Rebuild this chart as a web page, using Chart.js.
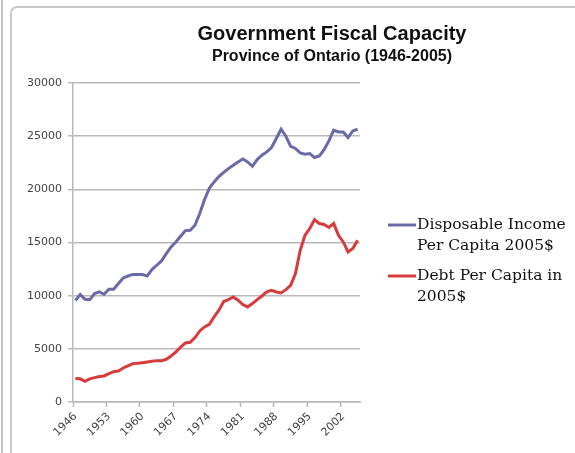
<!DOCTYPE html>
<html>
<head>
<meta charset="utf-8">
<script src="https://cdn.jsdelivr.net/npm/chart.js@4"></script>
<style>
  html, body { margin: 0; padding: 0; background: #fff; }
  #wrap { position: relative; width: 575px; height: 453px; overflow: hidden; }
  #edge { position: absolute; left: 1px; top: 0; width: 2px; height: 453px; background: #c4c4c4; }
  #frame { position: absolute; left: 10px; top: 6px; width: 620px; height: 500px;
           border: 2px solid #c8c8c8; border-radius: 7px; box-sizing: border-box; }
  canvas { position: absolute; left: 0; top: 0; }
</style>
</head>
<body>
<div id="wrap">
  <div id="edge"></div>
  <div id="frame"></div>
  <canvas id="chart" width="575" height="453"></canvas>
</div>
<script>
const titleText = "Government Fiscal Capacity";
const subtitleText = "Province of Ontario (1946-2005)";

const years = [
  "1946","1947","1948","1949","1950","1951","1952","1953","1954","1955",
  "1956","1957","1958","1959","1960","1961","1962","1963","1964","1965",
  "1966","1967","1968","1969","1970","1971","1972","1973","1974","1975",
  "1976","1977","1978","1979","1980","1981","1982","1983","1984","1985",
  "1986","1987","1988","1989","1990","1991","1992","1993","1994","1995",
  "1996","1997","1998","1999","2000","2001","2002","2003","2004","2005"
];

// tick labels shown on the x axis
const yearTicks = ["1946","1953","1960","1967","1974","1981","1988","1995","2002"];
const valueTicks = [0, 5000, 10000, 15000, 20000, 25000, 30000];

const incomeLabel = ["Disposable Income", "Per Capita 2005$"];
const debtLabel = ["Debt Per Capita in", "2005$"];

const income = [
  9550, 10100, 9650, 9630, 10200, 10350, 10130, 10600, 10600, 11140,
  11670, 11850, 12000, 12000, 11980, 11850, 12450, 12860, 13270, 13960,
  14580, 15050, 15590, 16120, 16150, 16620, 17720, 19040, 20100, 20700,
  21200, 21600, 21950, 22270, 22580, 22860, 22580, 22170, 22800, 23210,
  23520, 23930, 24780, 25650, 25000, 24050, 23840, 23420, 23300, 23370,
  22990, 23140, 23740, 24550, 25560, 25400, 25400, 24870, 25490, 25650
];

const debt = [
  2200, 2180, 1950, 2170, 2290, 2390, 2450, 2670, 2860, 2920,
  3200, 3390, 3610, 3640, 3700, 3760, 3830, 3890, 3890, 4020,
  4330, 4700, 5170, 5550, 5620, 6060, 6680, 7060, 7310, 8000,
  8630, 9450, 9630, 9880, 9570, 9160, 8940, 9260, 9630, 9970,
  10350, 10510, 10350, 10250, 10570, 10980, 12080, 14270, 15680, 16310,
  17160, 16780, 16690, 16410, 16780, 15680, 15050, 14110, 14430, 15210
];

const purple = "#6a6aa9";
const red = "#d83b3b";
const gridGray = "#b8b8b8";

// title, subtitle and the wrapped legend on the right
const decor = {
  id: "decor",
  afterDraw(chart) {
    const ctx = chart.ctx;
    ctx.save();
    ctx.fillStyle = "#111";
    ctx.textAlign = "center";
    ctx.textBaseline = "middle";
    ctx.font = "bold 20px 'Liberation Sans', Arial, sans-serif";
    ctx.fillText(titleText, 332, 34);
    ctx.font = "bold 16px 'Liberation Sans', Arial, sans-serif";
    ctx.fillText(subtitleText, 332, 57);

    const items = [
      { lines: incomeLabel, color: purple, y: 225 },
      { lines: debtLabel, color: red, y: 276 }
    ];
    ctx.textAlign = "left";
    ctx.font = "15.5px 'DejaVu Serif', serif";
    items.forEach(it => {
      ctx.strokeStyle = it.color;
      ctx.lineWidth = 3;
      ctx.beginPath();
      ctx.moveTo(388, it.y);
      ctx.lineTo(416, it.y);
      ctx.stroke();
      ctx.fillStyle = "#111";
      it.lines.forEach((t, i) => ctx.fillText(t, 417, it.y + i * 21));
    });
    ctx.restore();
  }
};

new Chart(document.getElementById("chart"), {
  type: "line",
  data: {
    labels: years,
    datasets: [
      { label: incomeLabel.join(" "), data: income, borderColor: purple, borderWidth: 3, pointRadius: 0, tension: 0 },
      { label: debtLabel.join(" "), data: debt, borderColor: red, borderWidth: 3, pointRadius: 0, tension: 0 }
    ]
  },
  options: {
    responsive: false,
    animation: false,
    layout: { padding: { left: 12, right: 215, top: 83, bottom: 0 } },
    plugins: {
      legend: { display: false },
      title: { display: false },
      tooltip: { enabled: false }
    },
    scales: {
      x: {
        offset: true,
        afterFit: s => { s.height = 51; },
        grid: {
          offset: true,
          drawOnChartArea: false,
          tickLength: 5,
          tickWidth: 1.5,
          tickColor: c => (c.index % 7 === 0 ? gridGray : "rgba(0,0,0,0)")
        },
        border: { color: gridGray, width: 1.5 },
        ticks: {
          autoSkip: false,
          minRotation: 45,
          maxRotation: 45,
          padding: 3,
          color: "#444",
          font: { family: "'DejaVu Sans', sans-serif", size: 11 },
          callback: function (v, i) {
            const lab = years[i];
            return yearTicks.includes(lab) ? lab : "";
          }
        }
      },
      y: {
        min: valueTicks[0],
        max: valueTicks[valueTicks.length - 1],
        afterFit: s => { s.width = 61; },
        grid: { color: gridGray, lineWidth: 1.5, tickLength: 5 },
        border: { color: gridGray, width: 1.5 },
        ticks: {
          stepSize: valueTicks[1] - valueTicks[0],
          padding: 6,
          color: "#444",
          font: { family: "'DejaVu Sans', sans-serif", size: 11 },
          callback: v => String(v)
        }
      }
    }
  },
  plugins: [decor]
});
</script>
</body>
</html>
